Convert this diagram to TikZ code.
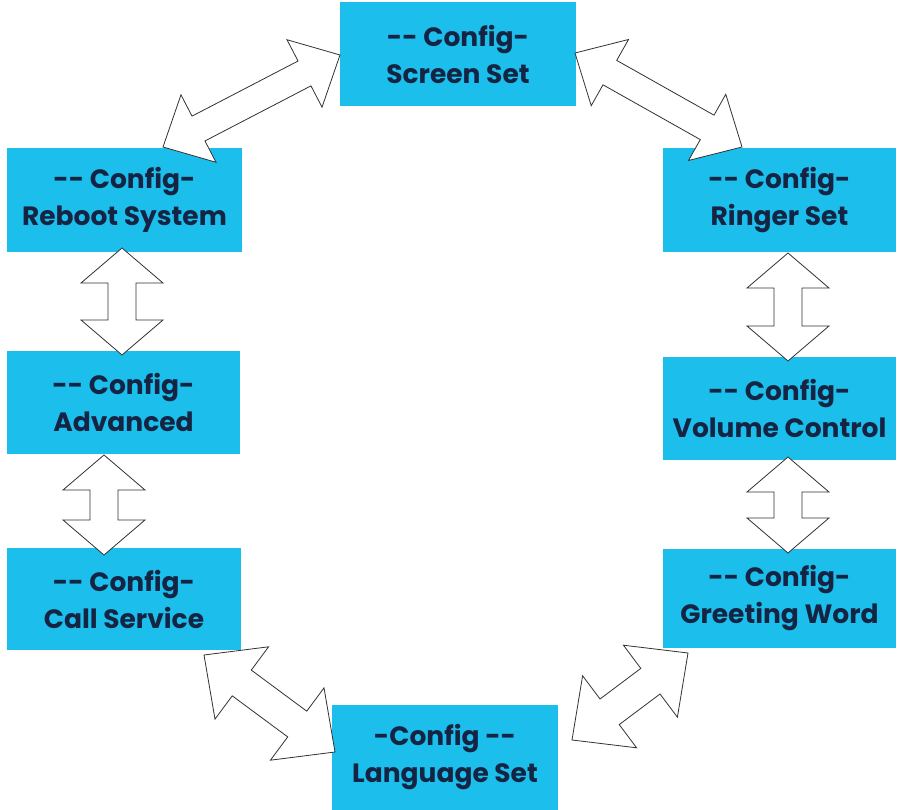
\documentclass[tikz,border=0pt]{standalone}
\usepackage{fontspec}
\setmainfont{Poppins}
\usetikzlibrary{calc}
\definecolor{boxcyan}{RGB}{28,190,236}
\definecolor{boxtext}{RGB}{20,36,66}
\definecolor{arrline}{RGB}{50,50,50}
\tikzset{
  cfgbox/.style={fill=boxcyan, draw=none, inner sep=0pt, align=center,
    text=boxtext, font=\bfseries\fontsize{26.5}{37}\selectfont},
  blockarrow/.style={draw=arrline, fill=white, line width=0.8pt, line join=miter}
}
% #1 from, #2 to, #3 head length, #4 head half width, #5 shaft half width
\newcommand\dblarr[5]{%
  \draw[blockarrow] (#1)
   -- ($(#1)!#3!(#2)!#4!90:(#2)$)
   -- ($(#1)!#3!(#2)!#5!90:(#2)$)
   -- ($(#2)!#3!(#1)!#5!-90:(#1)$)
   -- ($(#2)!#3!(#1)!#4!-90:(#1)$)
   -- (#2)
   -- ($(#2)!#3!(#1)!#4!90:(#1)$)
   -- ($(#2)!#3!(#1)!#5!90:(#1)$)
   -- ($(#1)!#3!(#2)!#5!-90:(#2)$)
   -- ($(#1)!#3!(#2)!#4!-90:(#2)$)
   -- cycle;}
\begin{document}
\begin{tikzpicture}[x=1pt, y=-1pt]
\useasboundingbox (0,0) rectangle (898,810);
\fill[white] (0,0) rectangle (898,810);
% boxes
\node[cfgbox, minimum width=236pt, minimum height=104pt] (screen) at (458,54) {-{}- Config-\\ Screen Set};
\node[cfgbox, minimum width=235pt, minimum height=104pt] (reboot) at (124.5,200) {-{}- Config-\\ Reboot System};
\node[cfgbox, minimum width=233pt, minimum height=103pt] (adv) at (123.5,402.5) {-{}- Config-\\ Advanced};
\node[cfgbox, minimum width=234pt, minimum height=102pt] (call) at (124,599) {-{}- Config-\\ Call Service};
\node[cfgbox, minimum width=233pt, minimum height=104pt] (ringer) at (779.5,200) {-{}- Config-\\ Ringer Set};
\node[cfgbox, minimum width=233pt, minimum height=103pt] (volume) at (779.5,408.5) {-{}- Config-\\ Volume Control};
\node[cfgbox, minimum width=233pt, minimum height=99pt] (greet) at (779.5,598.5) {-{}- Config-\\ Greeting Word};
\node[cfgbox, minimum width=226pt, minimum height=105pt] (lang) at (445,757.5) {-Config -{}-\\ Language Set};
% arrow tips
\coordinate (srA) at (340,55);   \coordinate (srB) at (163,147);
\coordinate (sgA) at (575,53);   \coordinate (sgB) at (742,147);
\coordinate (raA) at (122,248);  \coordinate (raB) at (122,355);
\coordinate (acA) at (104,455);  \coordinate (acB) at (104,555);
\coordinate (rvA) at (788,253);  \coordinate (rvB) at (788,361);
\coordinate (vgA) at (788,457);  \coordinate (vgB) at (788,553);
\coordinate (clA) at (204,655);  \coordinate (clB) at (335,752);
\coordinate (lgA) at (572,740);  \coordinate (lgB) at (688,653);
% connectors
\dblarr{srA}{srB}{40pt}{38pt}{14pt}
\dblarr{sgA}{sgB}{40pt}{38pt}{14pt}
\dblarr{raA}{raB}{35pt}{41pt}{14pt}
\dblarr{acA}{acB}{35pt}{41pt}{14pt}
\dblarr{rvA}{rvB}{35pt}{41pt}{14pt}
\dblarr{vgA}{vgB}{35pt}{41pt}{14pt}
\dblarr{clA}{clB}{47pt}{45pt}{16pt}
\dblarr{lgA}{lgB}{47pt}{45pt}{16pt}
\end{tikzpicture}
\end{document}
